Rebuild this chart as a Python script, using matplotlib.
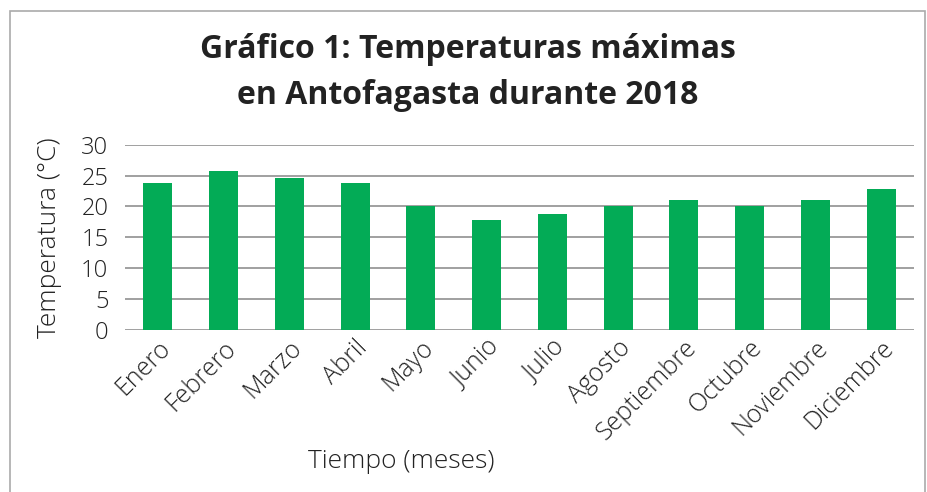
import matplotlib.pyplot as plt
import matplotlib.patches as mpatches
import matplotlib.transforms as mtransforms
import numpy as np

plt.rcParams['font.family'] = ['Open Sans', 'DejaVu Sans']

# Data
meses = ['Enero', 'Febrero', 'Marzo', 'Abril', 'Mayo', 'Junio', 'Julio',
         'Agosto', 'Septiembre', 'Octubre', 'Noviembre', 'Diciembre']
temperaturas = [23.8, 25.7, 24.6, 23.8, 20, 17.8, 18.8, 20, 21, 20, 21, 22.8]
yticks = [0, 5, 10, 15, 20, 25, 30]

fig = plt.figure(figsize=(9.28, 4.92), dpi=100)
ax = fig.add_axes([125 / 928, 1 - 330 / 492, (914 - 125) / 928, (330 - 144.7) / 492])

x = np.arange(len(meses))
ax.bar(x, temperaturas, 0.44, color='#03ab56', zorder=3)

ax.set_xlim(-0.5, len(meses) - 0.5)
ax.set_ylim(0, 30)
ax.set_yticks(yticks)
ax.yaxis.grid(True, color='#999999', linewidth=1.3, zorder=0)
for s in ax.spines.values():
    s.set_visible(False)
ax.tick_params(length=0, labelsize=17, colors='#222222')
ax.tick_params(axis='y', pad=12)
ax.set_xticks(x)
ax.set_xticklabels(meses, rotation=45, ha='right', rotation_mode='anchor', fontsize=18)
shift = mtransforms.ScaledTranslation(12 / 100, 0, fig.dpi_scale_trans)
for lbl in ax.get_xticklabels():
    lbl.set_transform(lbl.get_transform() + shift)
for lbl in ax.get_xticklabels() + ax.get_yticklabels():
    lbl.set_fontweight('light')
ax.tick_params(axis='x', pad=4)

ax.set_ylabel('Temperatura (°C)', fontsize=19, color='#222222', labelpad=14,
              fontweight='light')
fig.text(401 / 928, 1 - 462 / 492, 'Tiempo (meses)', fontsize=19, color='#222222',
         ha='center', va='center', fontweight='light')

fig.text(468 / 928, 1 - 50 / 492, 'Gráfico 1: Temperaturas máximas', fontsize=23,
         fontweight='bold', color='#222222', ha='center', va='center')
fig.text(468 / 928, 1 - 96 / 492, 'en Antofagasta durante 2018', fontsize=23,
         fontweight='bold', color='#222222', ha='center', va='center')

# outer frame
fig.patches.append(mpatches.Rectangle((10 / 928, -0.1), (925 - 10) / 928, 1.1 - 11 / 492,
                                      transform=fig.transFigure, fill=False,
                                      edgecolor='#aaaaaa', linewidth=1.2))

fig.savefig('out.png', dpi=100)
